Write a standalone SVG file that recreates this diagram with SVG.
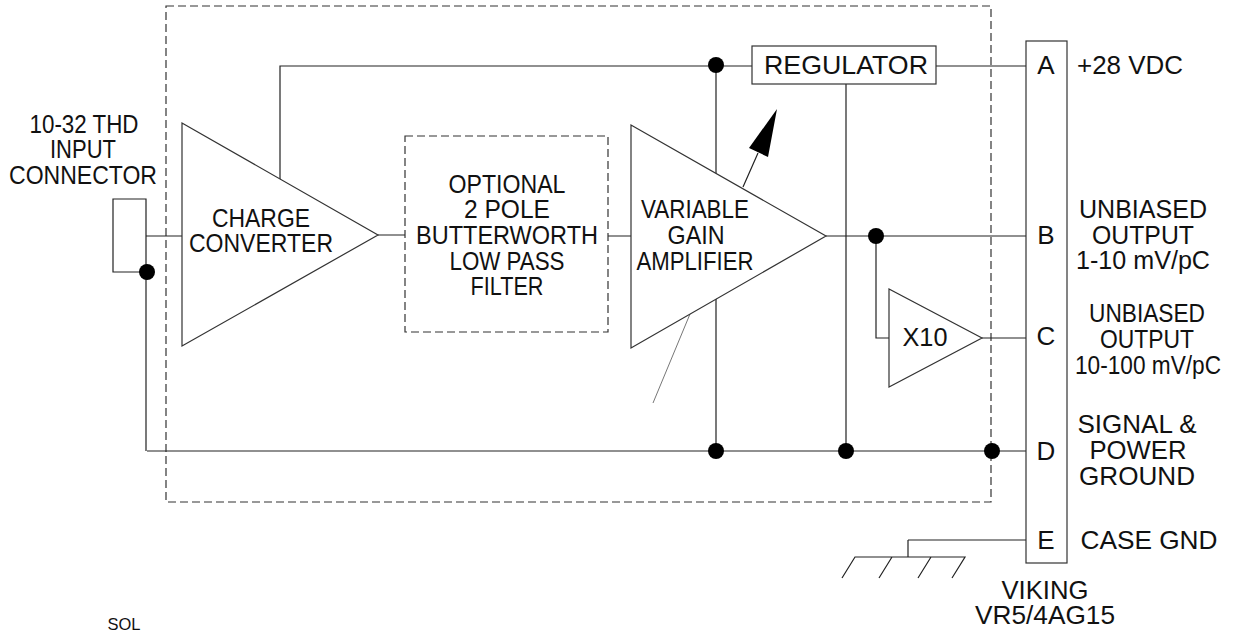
<svg xmlns="http://www.w3.org/2000/svg" width="1233" height="634" viewBox="0 0 1233 634">
<style>
text{font-family:"Liberation Sans",Arial,sans-serif;font-size:26px;fill:#111;text-anchor:middle}
.l{fill:none;stroke:#222;stroke-width:1.2}
.t{fill:none;stroke:#777;stroke-width:1}
.d{fill:none;stroke:#333;stroke-width:1.2;stroke-dasharray:8 4}
.n{fill:#fff;stroke:#333;stroke-width:1.2}
.j{fill:#000}
</style>
<rect class="d" x="166" y="6" width="825" height="496"/>
<g id="connectors">
<path class="l" d="M280 180V66H752M936 66H1026M716 66V451M846 84V451M147 451H1026M146 236V451M146 236H182M378 235H405M608 236H631M826 236H1026M876 236V338H889M982 338H1026M908 540H1026M908 540V557M743 187L758 153"/>
<path class="t" d="M690 314L653 403"/>
<path class="l" d="M146 236V199H113V272H147"/>
<path d="M749 148L777 109L768 157Z" fill="#000"/>
<path class="l" d="M842 578L855 557H965L952 578M879 578L892 557M918 578L931 557"/>
<circle class="j" cx="716" cy="65" r="8"/><circle class="j" cx="876" cy="236" r="8"/><circle class="j" cx="147" cy="272" r="8"/><circle class="j" cx="716" cy="451" r="8"/><circle class="j" cx="846" cy="451" r="8"/><circle class="j" cx="992" cy="451" r="8"/>
</g>
<g id="charge"><path class="n" d="M182 123V346L378 235Z"/><text x="261" y="227" textLength="98" lengthAdjust="spacingAndGlyphs">CHARGE</text><text x="261" y="252" textLength="144" lengthAdjust="spacingAndGlyphs">CONVERTER</text></g>
<g id="filter"><rect class="d" x="405" y="136" width="203" height="196"/><text x="507" y="193" textLength="117" lengthAdjust="spacingAndGlyphs">OPTIONAL</text><text x="507" y="218" textLength="86" lengthAdjust="spacingAndGlyphs">2 POLE</text><text x="507" y="244" textLength="182" lengthAdjust="spacingAndGlyphs">BUTTERWORTH</text><text x="507" y="270" textLength="115" lengthAdjust="spacingAndGlyphs">LOW PASS</text><text x="507" y="295" textLength="73" lengthAdjust="spacingAndGlyphs">FILTER</text></g>
<g id="amp"><path class="n" d="M631 125V348L826 236Z"/><text x="695" y="218" textLength="108" lengthAdjust="spacingAndGlyphs">VARIABLE</text><text x="696" y="244" textLength="57" lengthAdjust="spacingAndGlyphs">GAIN</text><text x="695" y="270" textLength="117" lengthAdjust="spacingAndGlyphs">AMPLIFIER</text></g>
<g id="reg"><rect class="n" x="752" y="46" width="184" height="38"/><text x="846" y="74" textLength="164" lengthAdjust="spacingAndGlyphs">REGULATOR</text></g>
<g id="x10"><path class="n" d="M889 289V387L982 338Z"/><text x="925" y="346" textLength="45" lengthAdjust="spacingAndGlyphs">X10</text></g>
<g id="term"><rect class="n" x="1026" y="41" width="41" height="522"/><text x="1046" y="74">A</text><text x="1046" y="244">B</text><text x="1046" y="345">C</text><text x="1046" y="460">D</text><text x="1046" y="549">E</text></g>
<g id="labels">
<text x="84" y="133" textLength="109" lengthAdjust="spacingAndGlyphs">10-32 THD</text><text x="83" y="158" textLength="66" lengthAdjust="spacingAndGlyphs">INPUT</text><text x="83" y="184" textLength="148" lengthAdjust="spacingAndGlyphs">CONNECTOR</text>
<text x="1130" y="74" textLength="106" lengthAdjust="spacingAndGlyphs">+28 VDC</text>
<text x="1143" y="218" textLength="128" lengthAdjust="spacingAndGlyphs">UNBIASED</text><text x="1143" y="244" textLength="102" lengthAdjust="spacingAndGlyphs">OUTPUT</text><text x="1143" y="269" textLength="134" lengthAdjust="spacingAndGlyphs">1-10 mV/pC</text>
<text x="1147" y="322" textLength="116" lengthAdjust="spacingAndGlyphs">UNBIASED</text><text x="1147" y="348" textLength="94" lengthAdjust="spacingAndGlyphs">OUTPUT</text><text x="1148" y="374" textLength="146" lengthAdjust="spacingAndGlyphs">10-100 mV/pC</text>
<text x="1137" y="433" textLength="119" lengthAdjust="spacingAndGlyphs">SIGNAL &amp;</text><text x="1138" y="459" textLength="97" lengthAdjust="spacingAndGlyphs">POWER</text><text x="1137" y="485" textLength="116" lengthAdjust="spacingAndGlyphs">GROUND</text>
<text x="1149" y="549" textLength="137" lengthAdjust="spacingAndGlyphs">CASE GND</text>
<text x="1045" y="599" textLength="87" lengthAdjust="spacingAndGlyphs">VIKING</text><text x="1045" y="624" textLength="140" lengthAdjust="spacingAndGlyphs">VR5/4AG15</text>
<text x="124" y="630" style="font-size:17px" textLength="33" lengthAdjust="spacingAndGlyphs">SOL</text>
</g>
</svg>
